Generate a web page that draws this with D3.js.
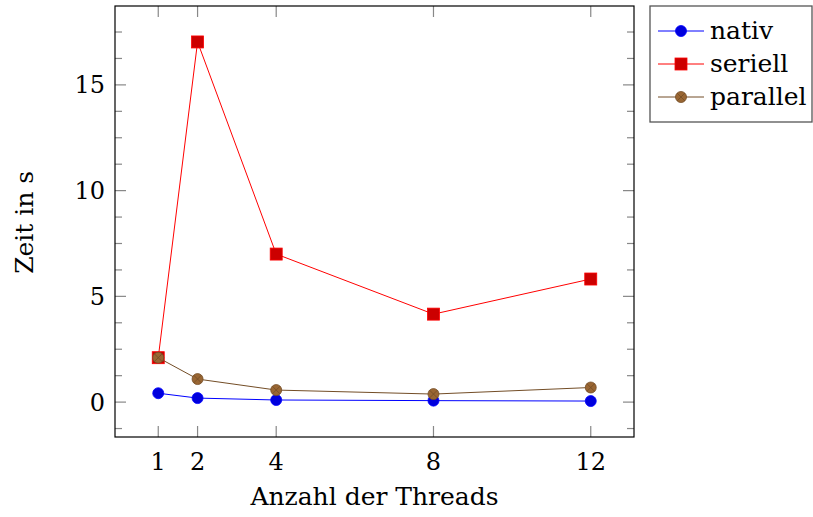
<!DOCTYPE html>
<html>
<head>
<meta charset="utf-8">
<script src="https://cdn.jsdelivr.net/npm/d3@7"></script>
<style>
  body { margin: 0; background: #fff; }
  text { font-family: "DejaVu Serif", "Liberation Serif", serif; fill: #000; }
</style>
</head>
<body>
<div id="chart"></div>
<script>
var threads = [1, 2, 4, 8, 12];
var nativ = [0.42, 0.19, 0.10, 0.07, 0.05];
var seriell = [2.10, 17.03, 7.00, 4.16, 5.82];
var parallel = [2.10, 1.09, 0.57, 0.38, 0.69];
var xTicks = [1, 2, 4, 8, 12];
var yTicks = [0, 5, 10, 15];

var series = [
    {name: 'nativ', values: nativ, line: '#0000ff', fill: '#0000dd', mark: 'circle'},
    {name: 'seriell', values: seriell, line: '#ff0000', fill: '#cc0000', mark: 'square'},
    {name: 'parallel', values: parallel, line: '#734d26', fill: '#996633', mark: 'otimes'}
];

var width = 813, height = 517;
var margin = {top: 6, right: 179, bottom: 80, left: 115};
var plotW = width - margin.left - margin.right;
var plotH = height - margin.top - margin.bottom;
var fontSize = 25, tickFont = 24;

var svg = d3.select('#chart').append('svg')
    .attr('width', width)
    .attr('height', height);

var g = svg.append('g')
    .attr('transform', `translate(${margin.left}, ${margin.top})`);

// pgfplots style: 10% enlargement of the data range
var xScale = d3.scaleLinear().domain([-0.1, 13.1]).range([0, plotW]);
var yScale = d3.scaleLinear().domain([-1.65, 18.73]).range([plotH, 0]);

var tickColor = '#888';
var majorLen = 11, minorLen = 7;

// x ticks, bottom and top
xTicks.forEach(function(t) {
    var x = xScale(t);
    g.append('line').attr('x1', x).attr('x2', x).attr('y1', plotH).attr('y2', plotH - majorLen)
        .attr('stroke', tickColor).attr('stroke-width', 1.2);
    g.append('line').attr('x1', x).attr('x2', x).attr('y1', 0).attr('y2', majorLen)
        .attr('stroke', tickColor).attr('stroke-width', 1.2);
    g.append('text').attr('x', x).attr('y', plotH + 33)
        .attr('text-anchor', 'middle').attr('font-size', tickFont).text(t);
});

// y ticks, major and minor, left and right
var minor = d3.range(-1.25, 18.7, 1.25).filter(v => yTicks.indexOf(v) < 0);
minor.forEach(function(t) {
    var y = yScale(t);
    g.append('line').attr('x1', 0).attr('x2', minorLen).attr('y1', y).attr('y2', y)
        .attr('stroke', tickColor).attr('stroke-width', 1.2);
    g.append('line').attr('x1', plotW).attr('x2', plotW - minorLen).attr('y1', y).attr('y2', y)
        .attr('stroke', tickColor).attr('stroke-width', 1.2);
});
yTicks.forEach(function(t) {
    var y = yScale(t);
    g.append('line').attr('x1', 0).attr('x2', majorLen).attr('y1', y).attr('y2', y)
        .attr('stroke', tickColor).attr('stroke-width', 1.2);
    g.append('line').attr('x1', plotW).attr('x2', plotW - majorLen).attr('y1', y).attr('y2', y)
        .attr('stroke', tickColor).attr('stroke-width', 1.2);
    g.append('text').attr('x', -10).attr('y', y).attr('dy', '0.35em')
        .attr('text-anchor', 'end').attr('font-size', tickFont).text(t);
});

// lines
var line = d3.line()
    .x((d, i) => xScale(threads[i]))
    .y(d => yScale(d));

function drawMark(sel, s, x, y) {
    if (s.mark === 'circle') {
        sel.append('circle').attr('cx', x).attr('cy', y).attr('r', 5.5)
            .attr('fill', s.fill).attr('stroke', s.line).attr('stroke-width', 0.8);
    } else if (s.mark === 'square') {
        sel.append('rect').attr('x', x - 6).attr('y', y - 6).attr('width', 12).attr('height', 12)
            .attr('fill', s.fill).attr('stroke', s.line).attr('stroke-width', 0.8);
    } else {
        var r = 5.5, k = r * Math.SQRT1_2;
        sel.append('circle').attr('cx', x).attr('cy', y).attr('r', r)
            .attr('fill', s.fill).attr('stroke', s.line).attr('stroke-width', 0.8);
        sel.append('path')
            .attr('d', `M${x - k},${y - k}L${x + k},${y + k}M${x - k},${y + k}L${x + k},${y - k}`)
            .attr('stroke', s.line).attr('stroke-width', 0.8);
    }
}

series.forEach(function(s) {
    g.append('path').datum(s.values)
        .attr('fill', 'none').attr('stroke', s.line).attr('stroke-width', 1)
        .attr('d', line);
    s.values.forEach(function(v, i) {
        drawMark(g, s, xScale(threads[i]), yScale(v));
    });
});

// frame
g.append('rect').attr('x', 0).attr('y', 0).attr('width', plotW).attr('height', plotH)
    .attr('fill', 'none').attr('stroke', '#000').attr('stroke-width', 1.2);

// axis labels
svg.append('text').attr('x', margin.left + xScale(6.5)).attr('y', 505)
    .attr('text-anchor', 'middle').attr('font-size', fontSize).text('Anzahl der Threads');
svg.append('text').attr('transform', `translate(33, ${margin.top + yScale(8.5)}) rotate(-90)`)
    .attr('text-anchor', 'middle').attr('font-size', fontSize).text('Zeit in s');

// legend
var legend = svg.append('g').attr('transform', 'translate(650, 6)');
legend.append('rect').attr('x', 0).attr('y', 0).attr('width', 162).attr('height', 116)
    .attr('fill', '#fff').attr('stroke', '#555').attr('stroke-width', 1.3);
series.forEach(function(s, i) {
    var y = 25 + i * 33;
    legend.append('line').attr('x1', 8).attr('x2', 54).attr('y1', y).attr('y2', y)
        .attr('stroke', s.line).attr('stroke-width', 1);
    drawMark(legend, s, 31, y);
    legend.append('text').attr('x', 60).attr('y', y).attr('dy', '0.33em')
        .attr('font-size', fontSize).text(s.name);
});
</script>
</body>
</html>
